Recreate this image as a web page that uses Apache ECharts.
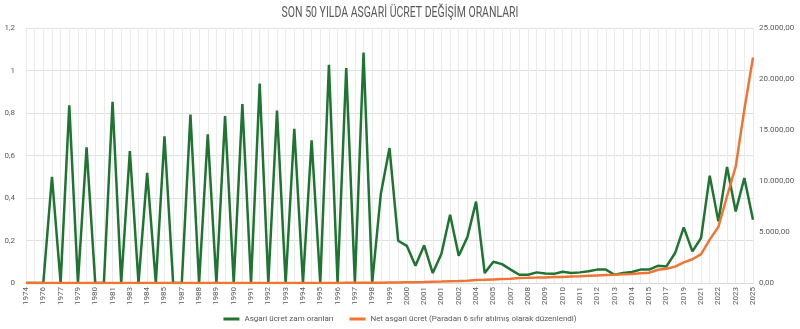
<!DOCTYPE html>
<html>
<head>
<meta charset="utf-8">
<script src="https://cdn.jsdelivr.net/npm/echarts@6/dist/echarts.min.js"></script>
<style>html,body{margin:0;padding:0;background:#fff}#c{width:800px;height:329px}</style>
</head>
<body>
<div id="c"></div>
<script>
var categories = ['1974','1975','1976','1976','1977','1978','1979','1979','1980','1980',
  '1981','1982','1983','1983','1984','1984','1985','1986','1987','1987',
  '1988','1988','1989','1989','1990','1990','1991','1991','1992','1992',
  '1993','1993','1994','1994','1995','1995','1996','1996','1997','1997',
  '1998','1998','1999','1999','2000','2000','2001','2001','2001','2002',
  '2002','2003','2004','2004','2005','2006','2007','2008','2008','2009',
  '2009','2010','2010','2011','2011','2012','2012','2013','2013','2014',
  '2014','2015','2015','2016','2017','2018','2019','2020','2021','2022',
  '2022','2023','2023','2024','2025'];

var raiseRate = [0,0,0,0.50,0,0.836,0,0.638,0,0,
  0.853,0,0.621,0,0.518,0,0.69,0,0,0.793,
  0,0.70,0,0.786,0,0.842,0,0.938,0,0.812,
  0,0.725,0,0.671,0,1.027,0,1.012,0,1.084,
  0,0.42,0.635,0.199,0.175,0.081,0.177,0.047,0.138,0.321,
  0.128,0.216,0.383,0.047,0.10,0.089,0.063,0.039,0.039,0.05,
  0.045,0.043,0.053,0.047,0.05,0.055,0.063,0.063,0.039,0.047,
  0.052,0.063,0.063,0.081,0.078,0.141,0.262,0.149,0.212,0.505,
  0.29,0.546,0.337,0.494,0.298];

var netWage = [0.001,0.001,0.001,0.0015,0.0015,0.003,0.003,0.004,0.004,0.004,
  0.008,0.008,0.012,0.012,0.019,0.019,0.032,0.032,0.032,0.057,
  0.057,0.096,0.096,0.17,0.17,0.32,0.32,0.61,0.61,1.1,
  1.1,1.9,1.9,3.2,3.2,6.5,6.5,13,13,27,
  28,36,48,56,75,82,88,122,139,163,
  184,226,303,318,350,380,419,481,503,527,
  546,577,599,629,658,701,739,773,803,846,
  891,949,1000,1300,1404,1603,2020,2324,2826,4253,
  5500,8507,11402,17002,22104];

var seriesNames = ['Asgari ücret zam oranları', 'Net asgari ücret (Paradan 6 sıfır atılmış olarak düzenlendi)'];
var titleText = 'SON 50 YILDA ASGARİ ÜCRET DEĞİŞİM ORANLARI';

var FONT = "'Roboto', sans-serif";
var TXT = '#595959';

function fmtRight(v) {
  var s = Math.round(v).toString().replace(/\B(?=(\d{3})+(?!\d))/g, '.');
  return s + ',00';
}

var chart = echarts.init(document.getElementById('c'), null, {renderer: 'canvas'});
chart.setOption({
  animation: false,
  textStyle: {fontFamily: FONT},
  graphic: [{
    type: 'text', x: 400, y: 13, scaleX: 0.75, scaleY: 1,
    style: {text: titleText, fontFamily: FONT, fontSize: 14, fill: TXT,
      align: 'center', verticalAlign: 'middle'}
  }],
  legend: {
    bottom: 1, left: 'center', itemGap: 16, itemWidth: 16, itemHeight: 3,
    icon: 'rect',
    textStyle: {fontFamily: FONT, fontSize: 8, color: TXT},
    data: seriesNames
  },
  grid: {left: 26, right: 47, top: 28, bottom: 46, containLabel: false},
  xAxis: {
    type: 'category', data: categories, boundaryGap: false,
    axisLine: {show: true, lineStyle: {color: '#d9d9d9'}},
    axisTick: {show: false},
    axisLabel: {interval: 1, rotate: 90, fontSize: 8, color: TXT, margin: 4, fontFamily: FONT},
    splitLine: {show: true, interval: 0, lineStyle: {color: '#ebebeb', width: 1}}
  },
  yAxis: [{
    type: 'value', min: 0, max: 1.2, interval: 0.2,
    axisLine: {show: false}, axisTick: {show: false},
    axisLabel: {fontSize: 8, color: TXT, margin: 11, fontFamily: FONT,
      formatter: function (v) { return String(Math.round(v * 10) / 10).replace('.', ','); }},
    splitLine: {lineStyle: {color: '#e0e0e0', width: 1}}
  }, {
    type: 'value', min: 0, max: 25000, interval: 5000,
    axisLine: {show: false}, axisTick: {show: false},
    axisLabel: {fontSize: 8, color: TXT, margin: 6, fontFamily: FONT, formatter: fmtRight},
    splitLine: {show: false}
  }],
  series: [{
    name: seriesNames[0], type: 'line', yAxisIndex: 0, data: raiseRate,
    showSymbol: false, symbol: 'none',
    lineStyle: {color: '#1E7430', width: 2.5}, itemStyle: {color: '#1E7430'}
  }, {
    name: seriesNames[1], type: 'line', yAxisIndex: 1, data: netWage,
    showSymbol: false, symbol: 'none',
    lineStyle: {color: '#F07533', width: 2.5}, itemStyle: {color: '#F07533'}
  }]
});
</script>
</body>
</html>
